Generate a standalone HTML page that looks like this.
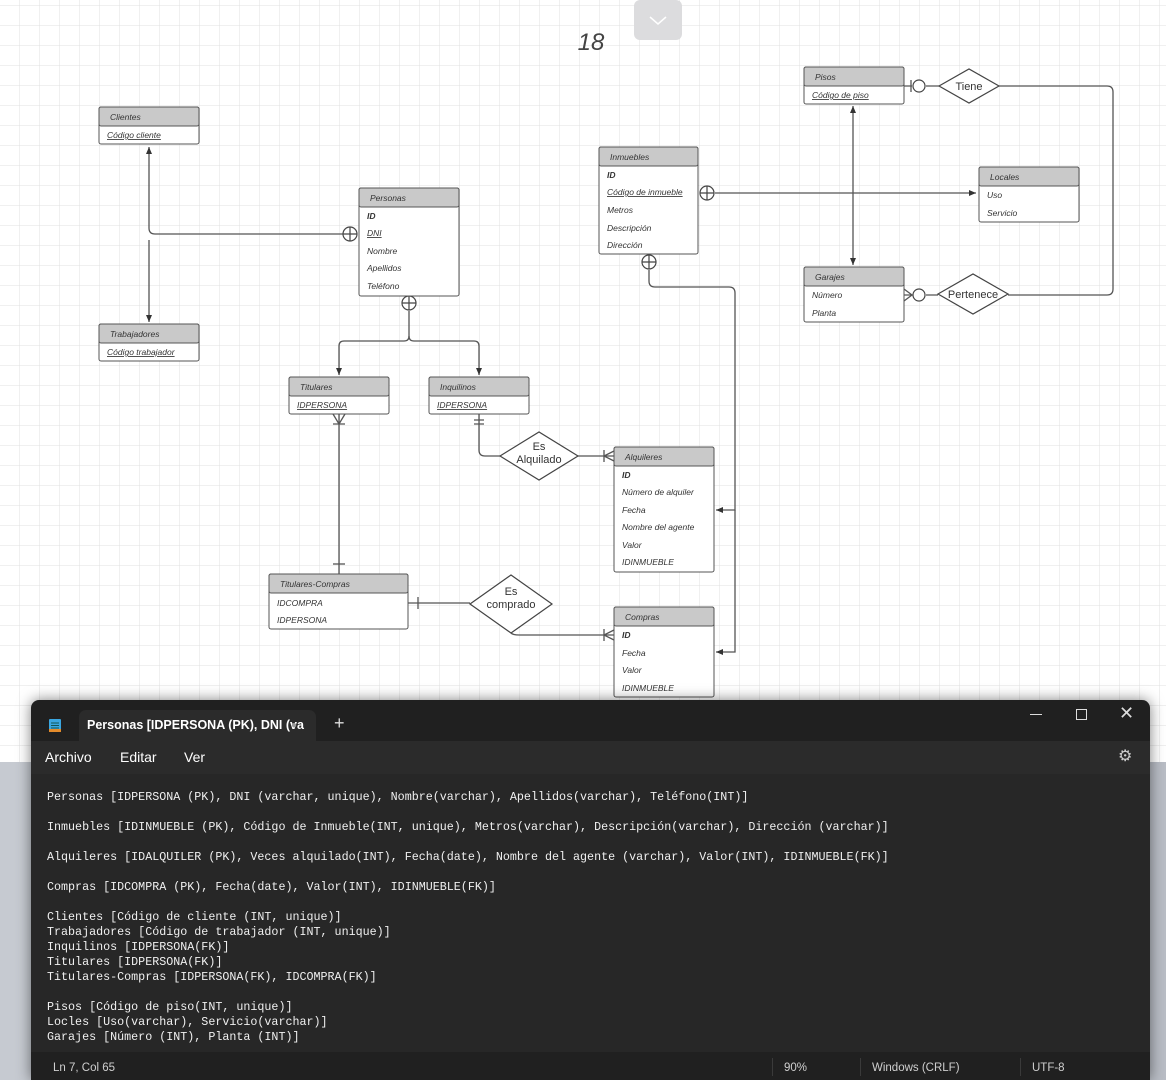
<!DOCTYPE html>
<html><head><meta charset="utf-8">
<style>
html,body{margin:0;padding:0;width:1166px;height:1080px;overflow:hidden;background:#fff;font-family:"Liberation Sans",sans-serif}
svg text{font-family:"Liberation Sans",sans-serif}
.np{position:absolute;left:31px;top:700px;width:1119px;height:380px;background:#202020;border-radius:8px 8px 0 0;overflow:hidden;box-shadow:0 0 14px rgba(0,0,0,.5)}
.tab{position:absolute;left:48px;top:10px;width:237px;height:31px;background:#2b2b2b;border-radius:7px 7px 0 0;color:#fff;font-size:12.5px;font-weight:bold;line-height:31px;padding-left:8px;box-sizing:border-box;white-space:nowrap}
.menu{position:absolute;left:0;top:41px;width:100%;height:33px;background:#2b2b2b;color:#fff;font-size:14px}
.menu span{position:absolute;top:8px}
.txt{position:absolute;left:0;top:74px;width:100%;height:278px;background:#272727;color:#f0f0f0;font-family:"Liberation Mono",monospace;font-size:11.7px;line-height:15px;white-space:pre;padding:16px 0 0 16px;box-sizing:border-box}
.status{position:absolute;left:0;top:352px;width:100%;height:28px;background:#202020;color:#cfcfcf;font-size:11.5px}
.status span{position:absolute;top:10px}
.sep{position:absolute;top:6px;width:1px;height:18px;background:#3a3a3a}
</style></head><body>
<svg width="1166" height="1080" style="position:absolute;left:0;top:0">
<defs>
<pattern id="g" x="0" y="6" width="20" height="20" patternUnits="userSpaceOnUse"><path d="M20 0V20M0 20H20" fill="none" stroke="#e0e0e0" stroke-width="1"/></pattern>
<marker id="ar" markerWidth="8" markerHeight="8" refX="7" refY="4" orient="auto" markerUnits="userSpaceOnUse"><path d="M0,1 L7,4 L0,7z" fill="#333"/></marker>
</defs>
<rect width="1166" height="770" fill="url(#g)"/>
<rect x="0" y="762" width="1166" height="318" fill="#c6cad1"/>
<rect x="1150" y="762" width="16" height="318" fill="#b9bdc5"/>
<rect x="634" y="0" width="48" height="40" rx="6" fill="#dcdcde"/>
<path d="M650 17 L658 24 L666 17" fill="none" stroke="#fff" stroke-width="1.5"/>
<text x="591" y="50" font-size="24" font-style="italic" fill="#444" text-anchor="middle">18</text>

<g fill="none" stroke="#555" stroke-width="1.3">
<path d="M343 234 H155 Q149 234 149 228 V147" marker-end="url(#ar)"/>
<path d="M149 240 V322" marker-end="url(#ar)"/>
<path d="M409 311 V336 Q409 341 404 341 H344 Q339 341 339 346 V375" marker-end="url(#ar)"/>
<path d="M409 336 Q409 341 414 341 H474 Q479 341 479 346 V375" marker-end="url(#ar)"/>
<path d="M339 414 V574"/>
<path d="M333 564 H345"/>
<path d="M333 414 L339 424 L345 414 M333 424 H345"/>
<path d="M479 414 V450 Q479 456 485 456 H500"/>
<path d="M474 420 H484 M474 424 H484"/>
<path d="M578 456 H614"/>
<path d="M604 450 V462 M614 451 L604 456 L614 461"/>
<path d="M408 603 H470"/>
<path d="M418 597 V609"/>
<path d="M511 633 Q513 635 519 635 H614"/>
<path d="M604 629 V641 M614 630 L604 635 L614 640"/>
<path d="M649 270 V281 Q649 287 655 287 H729 Q735 287 735 293 V510 H716" marker-end="url(#ar)"/>
<path d="M735 510 V652 H716" marker-end="url(#ar)"/>
<path d="M715 193 H976" marker-end="url(#ar)"/>
<path d="M853 193 V106" marker-end="url(#ar)"/>
<path d="M853 193 V265" marker-end="url(#ar)"/>
<path d="M904 86 H912 M926 86 H939"/>
<path d="M911 80 V92"/>
<path d="M999 86 H1107 Q1113 86 1113 92 V289 Q1113 295 1107 295 H1008"/>
<path d="M904 295 H912 M926 295 H938"/>
<path d="M904 289 L912 295 L904 301"/>
</g>
<g fill="#fff" stroke="#444" stroke-width="1.2">
<circle cx="350" cy="234" r="7"/><path d="M343 234H357M350 227V241"/>
<circle cx="409" cy="303" r="7"/><path d="M402 303H416M409 296V310"/>
<circle cx="649" cy="262" r="7"/><path d="M642 262H656M649 255V269"/>
<circle cx="707" cy="193" r="7"/><path d="M700 193H714M707 186V200"/>
<circle cx="919" cy="86" r="6"/>
<circle cx="919" cy="295" r="6"/>
<path d="M939 86 L969 69 L999 86 L969 103z"/>
<path d="M938 294 L973 274 L1008 294 L973 314z"/>
<path d="M500 456 L539 432 L578 456 L539 480z"/>
<path d="M470 604 L511 575 L552 604 L511 633z"/>
</g>
<g font-size="11" fill="#333" text-anchor="middle">
<text x="969" y="90">Tiene</text>
<text x="973" y="298">Pertenece</text>
<text x="539" y="450">Es</text><text x="539" y="463">Alquilado</text>
<text x="511" y="595">Es</text><text x="511" y="608">comprado</text>
</g>

<g stroke="#555" stroke-width="1" font-size="8.5" font-style="italic" fill="#333">
<g><rect x="99" y="107" width="100" height="37" rx="2" fill="#fff"/><rect x="99" y="107" width="100" height="19" rx="2" fill="#c9c9c9"/>
<text x="110" y="120" stroke="none">Clientes</text><text x="107" y="138" stroke="none" text-decoration="underline">Código cliente</text></g>
<g><rect x="99" y="324" width="100" height="37" rx="2" fill="#fff"/><rect x="99" y="324" width="100" height="19" rx="2" fill="#c9c9c9"/>
<text x="110" y="337" stroke="none">Trabajadores</text><text x="107" y="355" stroke="none" text-decoration="underline">Código trabajador</text></g>
<g><rect x="359" y="188" width="100" height="108" rx="2" fill="#fff"/><rect x="359" y="188" width="100" height="19" rx="2" fill="#c9c9c9"/>
<text x="370" y="201" stroke="none">Personas</text>
<text x="367" y="219" stroke="none" font-weight="bold">ID</text>
<text x="367" y="236" stroke="none" text-decoration="underline">DNI</text>
<text x="367" y="254" stroke="none">Nombre</text>
<text x="367" y="271" stroke="none">Apellidos</text>
<text x="367" y="289" stroke="none">Teléfono</text></g>
<g><rect x="289" y="377" width="100" height="37" rx="2" fill="#fff"/><rect x="289" y="377" width="100" height="19" rx="2" fill="#c9c9c9"/>
<text x="300" y="390" stroke="none">Titulares</text><text x="297" y="408" stroke="none" text-decoration="underline">IDPERSONA</text></g>
<g><rect x="429" y="377" width="100" height="37" rx="2" fill="#fff"/><rect x="429" y="377" width="100" height="19" rx="2" fill="#c9c9c9"/>
<text x="440" y="390" stroke="none">Inquilinos</text><text x="437" y="408" stroke="none" text-decoration="underline">IDPERSONA</text></g>
<g><rect x="599" y="147" width="99" height="107" rx="2" fill="#fff"/><rect x="599" y="147" width="99" height="19" rx="2" fill="#c9c9c9"/>
<text x="610" y="160" stroke="none">Inmuebles</text>
<text x="607" y="178" stroke="none" font-weight="bold">ID</text>
<text x="607" y="195" stroke="none" text-decoration="underline">Código de inmueble</text>
<text x="607" y="213" stroke="none">Metros</text>
<text x="607" y="231" stroke="none">Descripción</text>
<text x="607" y="248" stroke="none">Dirección</text></g>
<g><rect x="804" y="67" width="100" height="37" rx="2" fill="#fff"/><rect x="804" y="67" width="100" height="19" rx="2" fill="#c9c9c9"/>
<text x="815" y="80" stroke="none">Pisos</text><text x="812" y="98" stroke="none" text-decoration="underline">Código de piso</text></g>
<g><rect x="979" y="167" width="100" height="55" rx="2" fill="#fff"/><rect x="979" y="167" width="100" height="19" rx="2" fill="#c9c9c9"/>
<text x="990" y="180" stroke="none">Locales</text><text x="987" y="198" stroke="none">Uso</text><text x="987" y="216" stroke="none">Servicio</text></g>
<g><rect x="804" y="267" width="100" height="55" rx="2" fill="#fff"/><rect x="804" y="267" width="100" height="19" rx="2" fill="#c9c9c9"/>
<text x="815" y="280" stroke="none">Garajes</text><text x="812" y="298" stroke="none">Número</text><text x="812" y="316" stroke="none">Planta</text></g>
<g><rect x="614" y="447" width="100" height="125" rx="2" fill="#fff"/><rect x="614" y="447" width="100" height="19" rx="2" fill="#c9c9c9"/>
<text x="625" y="460" stroke="none">Alquileres</text>
<text x="622" y="478" stroke="none" font-weight="bold">ID</text>
<text x="622" y="495" stroke="none">Número de alquiler</text>
<text x="622" y="513" stroke="none">Fecha</text>
<text x="622" y="530" stroke="none">Nombre del agente</text>
<text x="622" y="548" stroke="none">Valor</text>
<text x="622" y="565" stroke="none">IDINMUEBLE</text></g>
<g><rect x="269" y="574" width="139" height="55" rx="2" fill="#fff"/><rect x="269" y="574" width="139" height="19" rx="2" fill="#c9c9c9"/>
<text x="280" y="587" stroke="none">Titulares-Compras</text><text x="277" y="606" stroke="none">IDCOMPRA</text><text x="277" y="623" stroke="none">IDPERSONA</text></g>
<g><rect x="614" y="607" width="100" height="90" rx="2" fill="#fff"/><rect x="614" y="607" width="100" height="19" rx="2" fill="#c9c9c9"/>
<text x="625" y="620" stroke="none">Compras</text>
<text x="622" y="638" stroke="none" font-weight="bold">ID</text>
<text x="622" y="656" stroke="none">Fecha</text>
<text x="622" y="673" stroke="none">Valor</text>
<text x="622" y="691" stroke="none">IDINMUEBLE</text></g>
</g>
</svg>

<div class="np">
<svg style="position:absolute;left:17px;top:17px" width="14" height="16"><rect x="1" y="2" width="12" height="13" rx="1" fill="#3aa6e0"/><rect x="1" y="12" width="12" height="3" fill="#e38b2b"/><path d="M3 6H11M3 8.5H11M3 11H11" stroke="#155" stroke-width="1"/></svg>
<div class="tab">Personas [IDPERSONA (PK), DNI (va<span style="position:absolute;left:212px;top:0;color:#999;font-size:10px">●</span></div>
<div style="position:absolute;left:303px;top:13px;color:#ddd;font-size:18px">+</div>
<div style="position:absolute;left:999px;top:14px;width:12px;height:1px;background:#ddd"></div>
<div style="position:absolute;left:1045px;top:9px;width:9px;height:9px;border:1px solid #ddd"></div>
<div style="position:absolute;left:1088px;top:3px;color:#ddd;font-size:18px">✕</div>
<div class="menu"><span style="left:14px">Archivo</span><span style="left:89px">Editar</span><span style="left:153px">Ver</span><span style="left:1087px;font-size:16px;top:5px;color:#ccc">⚙</span></div>
<div class="txt">Personas [IDPERSONA (PK), DNI (varchar, unique), Nombre(varchar), Apellidos(varchar), Teléfono(INT)]

Inmuebles [IDINMUEBLE (PK), Código de Inmueble(INT, unique), Metros(varchar), Descripción(varchar), Dirección (varchar)]

Alquileres [IDALQUILER (PK), Veces alquilado(INT), Fecha(date), Nombre del agente (varchar), Valor(INT), IDINMUEBLE(FK)]

Compras [IDCOMPRA (PK), Fecha(date), Valor(INT), IDINMUEBLE(FK)]

Clientes [Código de cliente (INT, unique)]
Trabajadores [Código de trabajador (INT, unique)]
Inquilinos [IDPERSONA(FK)]
Titulares [IDPERSONA(FK)]
Titulares-Compras [IDPERSONA(FK), IDCOMPRA(FK)]

Pisos [Código de piso(INT, unique)]
Locles [Uso(varchar), Servicio(varchar)]
Garajes [Número (INT), Planta (INT)]</div>
<div class="status"><span style="left:22px">Ln 7, Col 65</span><div class="sep" style="left:741px"></div><span style="left:753px">90%</span><div class="sep" style="left:829px"></div><span style="left:841px">Windows (CRLF)</span><div class="sep" style="left:989px"></div><span style="left:1001px">UTF-8</span></div>
</div>
</body></html>
